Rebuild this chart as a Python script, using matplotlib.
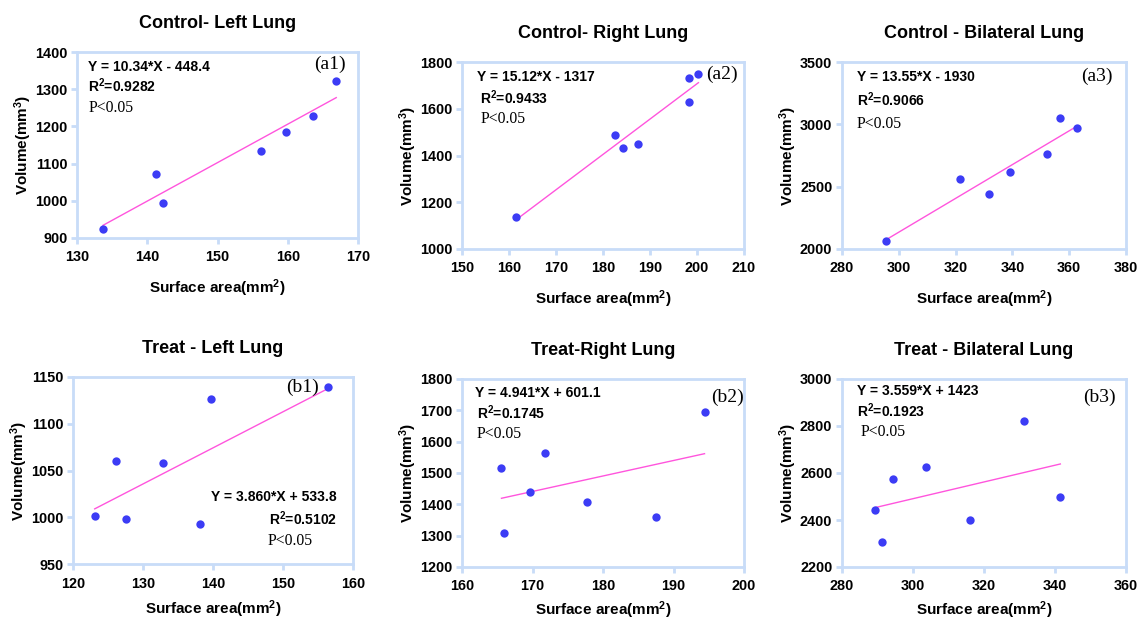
import matplotlib
matplotlib.use("Agg")
import matplotlib.pyplot as plt

plt.rcParams['font.family'] = ['Liberation Sans', 'DejaVu Sans']
plt.rcParams['mathtext.fontset'] = 'custom'
plt.rcParams['mathtext.rm'] = 'Liberation Sans:bold'
plt.rcParams['mathtext.bf'] = 'Liberation Sans:bold'
plt.rcParams['mathtext.it'] = 'Liberation Sans:bold'

# ---- data: surface area (x) vs volume (y) per group ----
titles = ["Control- Left Lung", "Control- Right Lung", "Control - Bilateral Lung",
          "Treat - Left Lung", "Treat-Right Lung", "Treat - Bilateral Lung"]
tags = ["(a1)", "(a2)", "(a3)", "(b1)", "(b2)", "(b3)"]

ctrl_left_x = [133.7, 141.3, 142.3, 156.2, 159.8, 163.6, 166.9]
ctrl_left_y = [925, 1072, 993, 1135, 1184, 1227, 1321]
ctrl_right_x = [161.5, 182.5, 184.2, 187.5, 198.2, 198.2, 200.3]
ctrl_right_y = [1138, 1488, 1433, 1448, 1627, 1730, 1747]
ctrl_bi_x = [295.5, 321.4, 331.6, 339.2, 352.1, 356.9, 362.7]
ctrl_bi_y = [2064, 2558, 2438, 2615, 2762, 3051, 2973]
treat_left_x = [123.1, 126.2, 127.6, 132.9, 138.2, 139.7, 156.4]
treat_left_y = [1001, 1060, 998, 1058, 993, 1127, 1139]
treat_right_x = [165.6, 166.0, 169.6, 171.8, 177.7, 187.5, 194.4]
treat_right_y = [1516, 1310, 1440, 1565, 1409, 1359, 1694]
treat_bi_x = [289.4, 291.2, 294.4, 303.7, 316.1, 331.4, 341.5]
treat_bi_y = [2441, 2308, 2576, 2624, 2402, 2822, 2499]

# regression fits (slope, intercept) and R^2
slopes = [10.34, 15.12, 13.55, 3.860, 4.941, 3.559]
intercepts = [-448.4, -1317, -1930, 533.8, 601.1, 1423]
r2_values = ["0.9282", "0.9433", "0.9066", "0.5102", "0.1745", "0.1923"]
eq_labels = ["Y = 10.34*X - 448.4", "Y = 15.12*X - 1317", "Y = 13.55*X - 1930",
             "Y = 3.860*X + 533.8", "Y = 4.941*X + 601.1", "Y = 3.559*X + 1423"]

# axis ranges and ticks
x_ticks = [[130, 140, 150, 160, 170], [150, 160, 170, 180, 190, 200, 210],
           [280, 300, 320, 340, 360, 380], [120, 130, 140, 150, 160],
           [160, 170, 180, 190, 200], [280, 300, 320, 340, 360]]
y_ticks = [[900, 1000, 1100, 1200, 1300, 1400], [1000, 1200, 1400, 1600, 1800],
           [2000, 2500, 3000, 3500], [950, 1000, 1050, 1100, 1150],
           [1200, 1300, 1400, 1500, 1600, 1700, 1800], [2200, 2400, 2600, 2800, 3000]]

xs = [ctrl_left_x, ctrl_right_x, ctrl_bi_x, treat_left_x, treat_right_x, treat_bi_x]
ys = [ctrl_left_y, ctrl_right_y, ctrl_bi_y, treat_left_y, treat_right_y, treat_bi_y]

# ---- layout (pixels on a 1137x621 canvas) ----
W, H = 1137, 621
boxes = [(77, 52, 358, 238), (462, 62, 744, 249), (842, 62, 1126, 249),
         (73, 377, 353, 564), (462, 379, 744, 567), (842, 379, 1126, 567)]
xlabel_pads = [9, 9, 9, 5.5, 4.5, 4.5]

# text placement in axes fraction: (eq_xy, r2_xy, p_xy, tag_xy, align)
text_pos = [
    ((0.04, 0.92), (0.04, 0.817), (0.04, 0.70), (0.90, 0.935), 'left'),
    ((0.053, 0.92), (0.064, 0.807), (0.067, 0.695), (0.92, 0.936), 'left'),
    ((0.053, 0.92), (0.053, 0.797), (0.05, 0.668), (0.898, 0.925), 'left'),
    ((0.943, 0.358), (0.943, 0.24), (0.857, 0.123), (0.82, 0.946), 'right'),
    ((0.046, 0.925), (0.053, 0.82), (0.053, 0.707), (0.94, 0.90), 'left'),
    ((0.053, 0.936), (0.053, 0.83), (0.067, 0.718), (0.908, 0.90), 'left'),
]

spine_color = "#c8dcf8"
dot_color = "#3c3cf5"
line_color = "#ff55dd"

fig = plt.figure(figsize=(W / 100, H / 100), dpi=100)
fig.patch.set_facecolor("white")

for i in range(6):
    l, t, r, b = boxes[i]
    ax = fig.add_axes([l / W, 1 - b / H, (r - l) / W, (b - t) / H])
    x, y = xs[i], ys[i]
    ax.scatter(x, y, s=36, color=dot_color, zorder=3, linewidths=0)
    x0, x1 = min(x), max(x)
    ax.plot([x0, x1], [slopes[i] * x0 + intercepts[i], slopes[i] * x1 + intercepts[i]],
            color=line_color, lw=1.0, zorder=2)

    ax.set_xlim(x_ticks[i][0], x_ticks[i][-1])
    ax.set_ylim(y_ticks[i][0], y_ticks[i][-1])
    ax.set_xticks(x_ticks[i])
    ax.set_yticks(y_ticks[i])
    for s in ax.spines.values():
        s.set_color(spine_color)
        s.set_linewidth(2)
    ax.tick_params(direction='out', length=4, width=2, color=spine_color,
                   labelsize=10.4)
    ax.tick_params(axis='x', pad=5)
    ax.tick_params(axis='y', pad=3)
    for lab in ax.get_xticklabels() + ax.get_yticklabels():
        lab.set_fontweight('bold')

    ax.set_title(titles[i], fontsize=13, fontweight='bold', pad=17)
    ax.set_xlabel(r"Surface area(mm$^{\mathbf{2}}$)", fontsize=11, fontweight='bold',
                  labelpad=xlabel_pads[i])
    ax.set_ylabel(r"Volume(mm$^{\mathbf{3}}$)", fontsize=11, fontweight='bold', labelpad=1)

    eq_xy, r2_xy, p_xy, tag_xy, ha = text_pos[i]
    ax.text(*eq_xy, eq_labels[i], transform=ax.transAxes, ha=ha, va='center',
            fontsize=10, fontweight='bold')
    ax.text(*r2_xy, r"R$^{\mathbf{2}}$=" + r2_values[i], transform=ax.transAxes, ha=ha,
            va='center', fontsize=10, fontweight='bold')
    ax.text(*p_xy, "P<0.05", transform=ax.transAxes, ha=ha, va='center',
            fontsize=11.3, family='Liberation Serif')
    ax.text(*tag_xy, tags[i], transform=ax.transAxes, ha='center', va='center',
            fontsize=14, family='Liberation Serif')

fig.savefig("out.png", dpi=100, facecolor="white")
